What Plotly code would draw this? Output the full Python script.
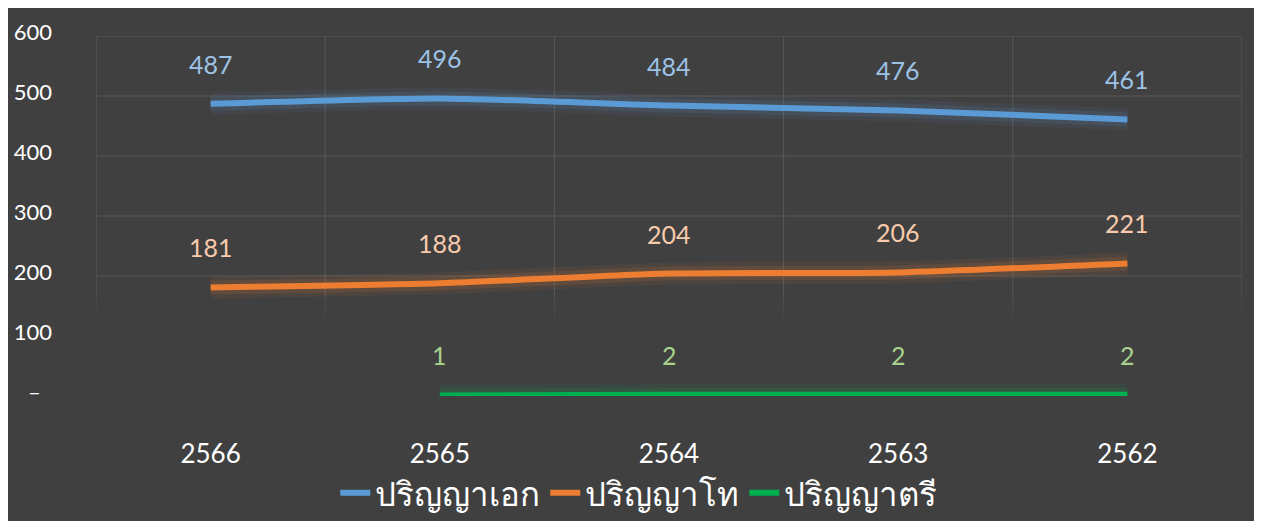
import plotly.graph_objects as go

years = ["2566", "2565", "2564", "2563", "2562"]
phd = [487, 496, 484, 476, 461]
masters = [181, 188, 204, 206, 221]
bachelor = [None, 1, 2, 2, 2]

series_names = ["ปริญญาเอก", "ปริญญาโท", "ปริญญาตรี"]
line_colors = ["#5B9BD5", "#ED7D31", "#00B050"]
label_colors = ["#9DC3E6", "#F8CBAD", "#A9D18E"]

y_ticks = [0, 100, 200, 300, 400, 500, 600]
y_ticktext = ["\u2013\u00a0\u00a0", "100", "200", "300", "400", "500", "600"]

BG = "#404040"
GRID = "#585858"
FONT = "Lato, Noto Sans, sans-serif"

fig = go.Figure()

for name, values, color, lab_color in zip(
    series_names, [phd, masters, bachelor], line_colors, label_colors
):
    # soft glow under the line
    for w, op in [(22, 0.07), (14, 0.12)]:
        fig.add_trace(
            go.Scatter(
                x=years, y=values, mode="lines", showlegend=False, hoverinfo="skip",
                line=dict(color=color, width=w, shape="spline", smoothing=0.6),
                opacity=op, cliponaxis=False,
            )
        )
    fig.add_trace(
        go.Scatter(
            x=years, y=values, mode="lines", name=name,
            line=dict(color=color, width=6, shape="spline", smoothing=0.6),
            cliponaxis=False,
        )
    )
    for i, v in enumerate(values):
        if v is None:
            continue
        fig.add_annotation(
            x=i, y=v, text=str(v), showarrow=False, yshift=40,
            font=dict(color=lab_color, size=25, family=FONT),
        )

# grid drawn by hand so it can fade out toward the bottom, like the original
n = len(years)
for yv in y_ticks[1:]:
    fig.add_shape(type="line", x0=-0.5, x1=n - 0.5, y0=yv, y1=yv,
                  line=dict(color=GRID, width=1), layer="below",
                  opacity=1.0 if yv >= 200 else 0.25)
fade = [(600, 165, 1.0), (165, 145, 0.6), (145, 125, 0.3), (125, 105, 0.12)]
for k in range(n + 1):
    xb = k - 0.5
    for y0, y1, op in fade:
        fig.add_shape(type="line", x0=xb, x1=xb, y0=y0, y1=y1,
                      line=dict(color=GRID, width=1), layer="below", opacity=op)

fig.update_layout(
    width=1254, height=513,
    margin=dict(l=88, r=20, t=28, b=125, autoexpand=False),
    paper_bgcolor=BG, plot_bgcolor=BG,
    font=dict(family=FONT, color="#FFFFFF"),
    legend=dict(
        orientation="h", xref="container", yref="container",
        x=0.503, y=0.055, xanchor="center", yanchor="middle",
        font=dict(size=33, color="#FFFFFF"), itemwidth=30,
        bgcolor="rgba(0,0,0,0)",
    ),
)
fig.update_xaxes(
    type="category", range=[-0.5, 4.5], showgrid=False, automargin=False,
    ticks="", ticklabelstandoff=40, zeroline=False, showline=False,
    tickfont=dict(size=26, color="#FFFFFF"),
)
fig.update_yaxes(
    range=[0, 600], tickvals=y_ticks, ticktext=y_ticktext, showgrid=False,
    automargin=False, zeroline=False, ticks="", ticklabelstandoff=43,
    ticklabelshift=-4, tickfont=dict(size=22, color="#FFFFFF"),
)

fig.write_html("out.html")
